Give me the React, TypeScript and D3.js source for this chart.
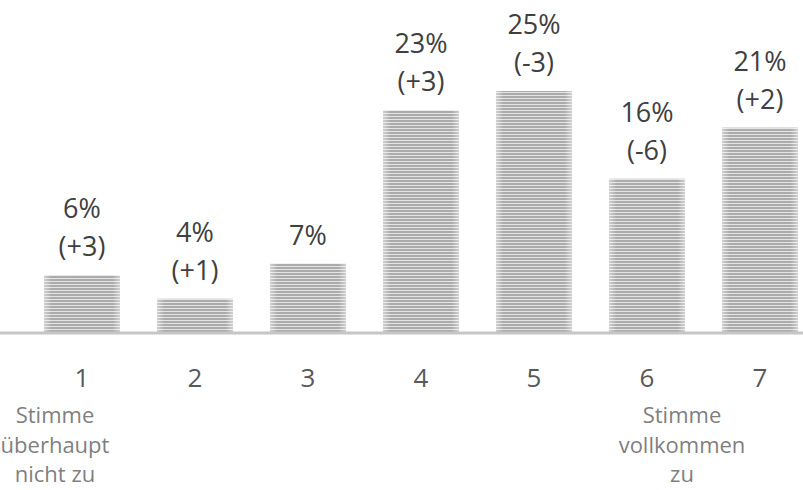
import React from "react";
import * as d3 from "d3";

const categories = ["1", "2", "3", "4", "5", "6", "7"];
const values = [5.9, 3.45, 7.1, 23, 25, 15.9, 21.2];
const percentLabels = ["6%", "4%", "7%", "23%", "25%", "16%", "21%"];
const changeLabels = ["(+3)", "(+1)", "", "(+3)", "(-3)", "(-6)", "(+2)"];
const leftNote = ["Stimme", "überhaupt", "nicht zu"];
const rightNote = ["Stimme", "vollkommen", "zu"];

const W = 803;
const H = 490;
const baseY = 332;

export default function App() {
  const x = d3
    .scaleBand<string>()
    .domain(categories)
    .range([25.5, 816.5])
    .paddingInner(0.327)
    .paddingOuter(0.1635);
  const y = d3.scaleLinear().domain([0, 25]).range([baseY, 91]);
  const font = "'Open Sans', 'DejaVu Sans', sans-serif";

  return (
    <svg
      width={W}
      height={H}
      style={{ position: "absolute", left: 0, top: 0, background: "#fff" }}
      fontFamily={font}
    >
      <defs>
        <pattern id="stripes" patternUnits="userSpaceOnUse" width={6} height={3}>
          <rect x={0} y={0} width={6} height={3} fill="#e4e4e4" />
          <rect x={0} y={0} width={6} height={2} fill="#ababab" />
        </pattern>
        <linearGradient id="edge" x1="0" x2="1" y1="0" y2="0">
          <stop offset="0" stopColor="#fff" stopOpacity={0.45} />
          <stop offset="0.1" stopColor="#fff" stopOpacity={0} />
          <stop offset="0.9" stopColor="#fff" stopOpacity={0} />
          <stop offset="1" stopColor="#fff" stopOpacity={0.45} />
        </linearGradient>
      </defs>
      {categories.map((c, i) => {
        const bx = x(c)!;
        const bw = x.bandwidth();
        const top = y(values[i]);
        const cx = bx + bw / 2;
        const hasChange = changeLabels[i] !== "";
        return (
          <g key={c}>
            <rect x={bx} y={top} width={bw} height={baseY - top} fill="url(#stripes)" />
            <rect x={bx} y={top} width={bw} height={baseY - top} fill="url(#edge)" />
            <text
              x={cx}
              y={hasChange ? top - 57 : top - 19}
              textAnchor="middle"
              fontSize={27}
              fill="#404040"
            >
              {percentLabels[i]}
            </text>
            {hasChange && (
              <text x={cx} y={top - 19} textAnchor="middle" fontSize={27} fill="#404040">
                {changeLabels[i]}
              </text>
            )}
            <text x={cx} y={387} textAnchor="middle" fontSize={26} fill="#595959">
              {c}
            </text>
          </g>
        );
      })}
      <line x1={0} x2={W} y1={333} y2={333} stroke="#c6c6c6" strokeWidth={3} />
      {leftNote.map((t, i) => (
        <text key={"l" + i} x={55} y={423 + i * 29.5} textAnchor="middle" fontSize={22} fill="#7f7f7f">
          {t}
        </text>
      ))}
      {rightNote.map((t, i) => (
        <text key={"r" + i} x={682} y={423 + i * 29.5} textAnchor="middle" fontSize={22} fill="#7f7f7f">
          {t}
        </text>
      ))}
    </svg>
  );
}
